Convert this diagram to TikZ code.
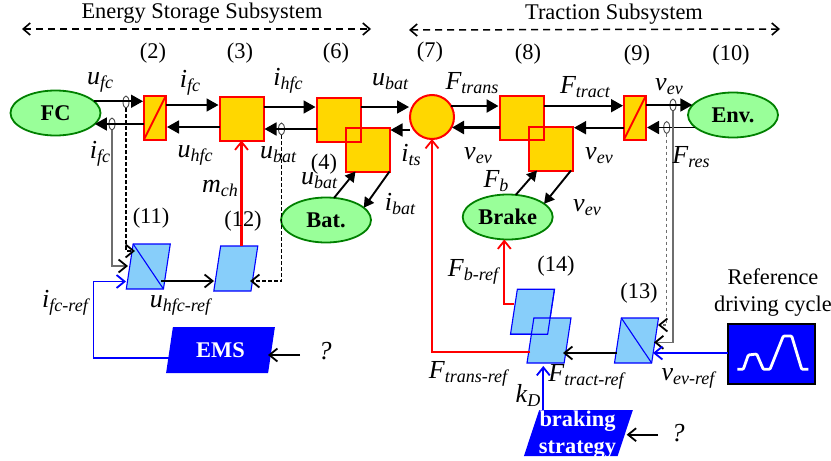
\documentclass[tikz,border=0pt]{standalone}
\usepackage{fontspec}
\setmainfont{Liberation Serif}
\usetikzlibrary{arrows.meta,shapes.geometric}
\definecolor{blockfill}{RGB}{255,215,0}
\definecolor{plantfill}{RGB}{153,255,153}
\definecolor{plantline}{RGB}{0,128,0}
\definecolor{ctrlfill}{RGB}{135,206,250}
\definecolor{tapgray}{RGB}{110,110,110}
\newcommand{\sg}[2]{{\fontsize{26}{26}\selectfont\itshape #1}\raisebox{-4pt}{\fontsize{18}{18}\selectfont\itshape #2}}
\tikzset{
  x=1pt,y=-1pt,
  every node/.style={inner sep=0pt,outer sep=0pt},
  block/.style={draw=red,fill=blockfill,line width=2pt,minimum size=44pt},
  halfblock/.style={draw=red,fill=blockfill,line width=2pt,minimum width=22pt,minimum height=44pt},
  sumcircle/.style={circle,draw=red,fill=blockfill,line width=2pt,minimum size=44pt},
  plant/.style={ellipse,draw=plantline,fill=plantfill,line width=1.8pt,minimum width=90pt,minimum height=45pt,font=\fontsize{22.4}{22.4}\selectfont\bfseries},
  ctrl/.style={trapezium,trapezium left angle=76,trapezium right angle=104,trapezium stretches=true,draw=blue,fill=ctrlfill,line width=1.1pt,minimum width=44pt,minimum height=45pt},
  strat/.style={trapezium,trapezium left angle=77,trapezium right angle=103,trapezium stretches=true,fill=blue,text=white,minimum width=109pt,minimum height=46pt,font=\fontsize{22.4}{27}\selectfont\bfseries,align=center},
  strattext/.style={text=white,font=\fontsize{22.4}{27}\selectfont\bfseries,align=center},
  tap/.style={ellipse,draw=black!70,line width=0.9pt,minimum width=6pt,minimum height=12pt},
  txt/.style={font=\fontsize{22.4}{27}\selectfont},
  power/.style={color=black,line width=1.8pt,-{Triangle[length=12pt,width=13pt]},shorten >=1pt},
  powerthick/.style={power,line width=2.6pt},
  diag/.style={color=black,line width=1.9pt,-{Triangle[length=10pt,width=11pt]}},
  barb/.style={-{Straight Barb[length=8pt,width=13pt,line width=1.8pt]}},
  blackbarb/.style={-{Straight Barb[length=8pt,width=13pt,line width=1.8pt,color=black]}},
  sig/.style={barb,color=black,line width=1.8pt},
  sigred/.style={barb,red,line width=2.1pt},
  sigblue/.style={barb,blue,line width=1.9pt},
  measure/.style={blackbarb,color=tapgray,line width=1.2pt},
  measuredash/.style={blackbarb,color=black,line width=1.2pt,dash pattern=on 3.5pt off 2.5pt},
  span/.style={color=black,line width=1.5pt,dash pattern=on 7pt off 5pt,{Straight Barb[length=7pt,width=12pt,line width=1.6pt]}-{Straight Barb[length=7pt,width=12pt,line width=1.6pt]}},
}
\begin{document}
\begin{tikzpicture}
\useasboundingbox (0,0) rectangle (831,461);
% titles
\node[txt] at (202,13) {Energy Storage Subsystem};
\node[txt] at (614,14) {Traction Subsystem};
\coordinate (esl) at (22,29); \coordinate (esr) at (371,29);
\coordinate (tsl) at (409,30); \coordinate (tsr) at (780,29);
\draw[span] (esl) -- (esr);
\draw[span] (tsl) -- (tsr);
% plants and blocks
\node[plant] (fc) at (55.5,113) {FC};
\node[plant] (env) at (733,115) {Env.};
\node[plant] (bat) at (326,220) {Bat.};
\node[plant] (brake) at (507.7,217) {Brake};
\node[halfblock] (b2) at (155,117.5) {};
\draw[red,line width=2pt] (b2.south west) -- (b2.north east);
\node[block] (b3) at (241.5,118.5) {};
\node[block] (b6) at (338.5,119.5) {};
\node[block] (b4) at (367.5,149.5) {};
\draw[red,line width=2pt] (b6.north east) -- (b6.south east) -- (b6.south west);
\node[sumcircle] (b7) at (432,117) {};
\node[block] (b8) at (521.5,118) {};
\node[block] (b8b) at (551,148.5) {};
\draw[red,line width=2pt] (b8.north east) -- (b8.south east) -- (b8.south west);
\node[halfblock] (b9) at (635,117.5) {};
\draw[red,line width=2pt] (b9.south west) -- (b9.north east);
% control blocks
\node[ctrl] (p11) at (148.3,266.5) {\phantom{H}};
\draw[blue,line width=1.1pt] (p11.top left corner) -- (p11.bottom right corner);
\node[ctrl] (p12) at (235.8,268.5) {\phantom{H}};
\node[ctrl] (p14a) at (532.5,311.7) {\phantom{H}};
\node[ctrl] (p14b) at (549,340.5) {\phantom{H}};
\draw[blue,line width=1.1pt] (p14a.top right corner) -- (p14a.bottom right corner) -- (p14a.bottom left corner);
\node[ctrl] (p13) at (636.5,340.5) {\phantom{H}};
\draw[blue,line width=1.1pt] (p13.top left corner) -- (p13.bottom right corner);
\node[strat] (ems) at (220.5,350) {EMS};
\node[strat] (brk) at (578.4,433) {\phantom{H}};
\begin{scope}
\clip (500,405) rectangle (660,456);
\node[strattext] (brktext) at (577.5,435) {braking\\strategy};
\end{scope}
\node[draw=black,fill=blue,line width=1.5pt,minimum width=87pt,minimum height=60pt] (ref) at (771.7,354) {};
\draw[white,line width=2.8pt,line join=round,rounded corners=1pt] (737.3,369.3) -- (743.3,369.3) -- (748.3,355) -- (756.7,354) -- (763.3,369.3) -- (770,369.3) -- (783.3,336) -- (791.7,336) -- (801.7,369.3) -- (808.3,369.3);
% taps
\node[tap] (t1) at (126,102) {};
\node[tap] (t2) at (112,124) {};
\node[tap] (t3) at (281.5,129) {};
\node[tap] (t4) at (673,105) {};
\node[tap] (t5) at (666.7,127.5) {};
% power connectors
\draw[power] (fc.17) -- (fc.17 -| b2.west);
\draw[power] (b2.west |- 0,124) -- (fc.343 |- 0,124);
\draw[power] (b2.east |- 0,105) -- (b3.west |- 0,105);
\draw[power] (b3.west |- 0,127) -- (b2.east |- 0,127);
\draw[power] (b3.east |- 0,107) -- (b6.west |- 0,107);
\draw[power] (b6.west |- 0,129) -- (b3.east |- 0,129);
\draw[power] (b6.east |- 0,107) -- (b7.west |- 0,107);
\draw[power] (b7.west |- 0,130) -- (b4.east |- 0,130);
\draw[powerthick] (b7.30) -- (b8.west |- b7.30);
\draw[powerthick] (b8.west |- 0,127.5) -- (b7.330 |- 0,127.5);
\draw[power] (b8.east |- 0,105.7) -- (b9.west |- 0,105.7);
\draw[power] (b9.west |- 0,127.7) -- (b8b.east |- 0,127.7);
\draw[power] (b9.east |- 0,105) -- (env.165 |- 0,105);
\draw[power] (env.197 |- 0,127.5) -- (b9.east |- 0,127.5);
\draw[diag] (b4.south east) -- (bat.18);
\draw[diag] (bat.70) -- ([xshift=-12pt]b4.south);
\draw[diag] (brake.70) -- ([xshift=-14pt]b8b.south);
\draw[diag] ([xshift=20pt]b8b.south) -- (brake.20);
% control connectors
\coordinate (mchs) at (241.5,246);
\draw[sigred] (mchs) -- (b3.south);
\draw[sigred] (p14a.west |- 0,304) -| (504.3,0 |- brake.south);
\draw[sigred] (p14b.west |- 0,352) -| (b7.south);
\coordinate (a11s) at (128,266); \coordinate (a11d) at (135,251); \coordinate (a11b) at (126,281.5);
\coordinate (emsc) at (93.5,357.7); \coordinate (emso) at (170,357.7);
\coordinate (a12r) at (250,281); \coordinate (a13d) at (658,325); \coordinate (a13s) at (654,342.3);
\coordinate (a13b) at (653,353);
\draw[measure] (t2.south) |- (a11s);
\draw[measuredash] (t1.south) |- (a11d);
\draw[measuredash] (t3.south) |- (a12r);
\draw[measuredash,color=tapgray] (t5.south) |- (a13d);
\draw[measure] (t4.south) |- (a13s);
\coordinate (p11o) at (161,281); \coordinate (p12i) at (214,281);
\draw[sig] (p11o) -- (p12i);
\draw[sigblue] (emso) -- (emsc) |- (a11b);
\coordinate (q1) at (300,355); \coordinate (q2) at (658,434.7);
\coordinate (e1) at (268,355); \coordinate (e2) at (626.7,434.7);
\draw[sig] (q1) -- (e1);
\coordinate (p13o) at (616.7,353); \coordinate (p14i) at (563,353);
\draw[sig] (p13o) -- (p14i);
\draw[sigblue] (ref.west |- a13b) -- (a13b);
\coordinate (k1) at (543.3,410); \coordinate (k2) at (543.3,366);
\draw[sigblue] (k1) -- (k2);
\draw[sig] (q2) -- (e2);
% numbers
\node[txt] at (153,53) {(2)};
\node[txt] at (240,53) {(3)};
\node[txt] at (336,53) {(6)};
\node[txt] at (430,52) {(7)};
\node[txt] at (528,54) {(8)};
\node[txt] at (637,55) {(9)};
\node[txt] at (731,55) {(10)};
\node[txt] at (324,164) {(4)};
\node[txt] at (151,218) {(11)};
\node[txt] at (243,221) {(12)};
\node[txt] at (556,266) {(14)};
\node[txt] at (639,293) {(13)};
\node[txt,align=center] at (773,292.5) {Reference\\driving cycle};
% signal labels
\node at (100,82) {\sg{u}{fc}};
\node at (190,83) {\sg{i}{fc}};
\node at (288,81) {\sg{i}{hfc}};
\node at (390,82) {\sg{u}{bat}};
\node at (195,155) {\sg{u}{hfc}};
\node at (278,155) {\sg{u}{bat}};
\node at (100,154) {\sg{i}{fc}};
\node at (220,188) {\sg{m}{ch}};
\node at (319,181) {\sg{u}{bat}};
\node at (400,204) {\sg{i}{bat}};
\node at (411,155) {\sg{i}{ts}};
\node at (472,83) {\sg{F}{trans}};
\node at (585,87) {\sg{F}{tract}};
\node at (669,87) {\sg{v}{ev}};
\node at (691,157) {\sg{F}{res}};
\node at (478,156) {\sg{v}{ev}};
\node at (599,156) {\sg{v}{ev}};
\node at (496,181) {\sg{F}{b}};
\node at (587,208) {\sg{v}{ev}};
\node at (473,272) {\sg{F}{b-ref}};
\node at (468,374) {\sg{F}{trans-ref}};
\node at (586,377) {\sg{F}{tract-ref}};
\node at (688,378) {\sg{v}{ev-ref}};
\node at (528,395) {\sg{k}{D}};
\node at (65,303) {\sg{i}{fc-ref}};
\node at (180,305) {\sg{u}{hfc-ref}};
\node at (325,353) {\sg{?}{}};
\node at (678,435) {\sg{?}{}};
\end{tikzpicture}
\end{document}
